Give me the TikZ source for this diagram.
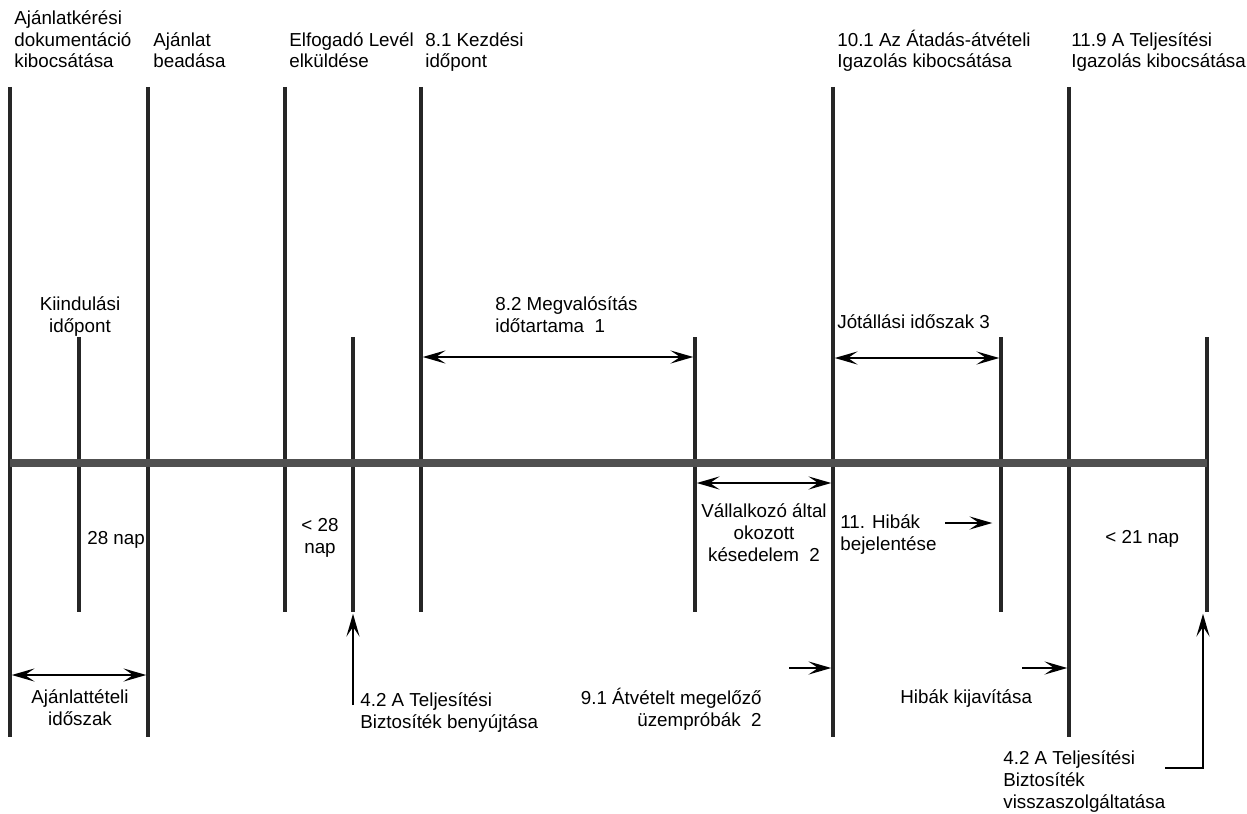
\documentclass[tikz,border=0pt]{standalone}
\usepackage{fontspec}
\setmainfont{Liberation Sans}
\usetikzlibrary{arrows.meta}
\definecolor{lineblack}{HTML}{262626}
\definecolor{axisgray}{HTML}{505050}
\tikzset{
  lbl/.style={inner sep=0pt, font=\fontsize{10.7}{12.5}\selectfont, align=left, anchor=base west},
  event/.style={line width=2pt, color=lineblack},
  axisline/.style={line width=4pt, color=axisgray},
  span/.style={{Stealth[length=13pt,width=7.5pt,inset=5.5pt]}-{Stealth[length=13pt,width=7.5pt,inset=5.5pt]},
    line width=0.8pt, shorten <=1pt, shorten >=1pt},
  pointer/.style={-{Stealth[length=13pt,width=7.5pt,inset=5.5pt]}, line width=0.8pt, shorten >=1pt}
}

\begin{document}
\begin{tikzpicture}[x=0.02cm,y=-0.02cm]
  \useasboundingbox (0,0) rectangle (1247,814);

  % event lines: name / x / top / bottom
  \foreach \n/\x/\yt/\yb in {doc/10/87/737, start/79/337/612, bid/148/87/737,
      accept/285/87/612, bond/353/337/612, comm/421/87/612, done/695/337/612,
      take/833/87/737, warr/1001/337/612, perf/1069/87/737, ret/1207/337/612} {
    \coordinate (\n-t) at (\x,\yt);
    \coordinate (\n-b) at (\x,\yb);
    \draw[event] (\n-t) -- (\n-b);
  }

  % time axis
  \coordinate (axL) at (10,463);
  \coordinate (axR) at (1207,463);
  \draw[axisline] (axL) -- (axR);

  % labels above (base = last line)
  \node[lbl] (docL) at (14,68) {Ajánlatkérési\\dokumentáció\\kibocsátása};
  \node[lbl] (bidL) at (153,68) {Ajánlat\\beadása};
  \node[lbl] (acceptL) at (289,68) {Elfogadó Levél\\elküldése};
  \node[lbl] (commL) at (425,68) {8.1 Kezdési\\időpont};
  \node[lbl] (takeL) at (837,68) {10.1 Az Átadás-átvételi\\Igazolás kibocsátása};
  \node[lbl] (perfL) at (1071,68) {11.9 A Teljesítési\\Igazolás kibocsátása};

  \node[lbl, align=center, anchor=base] (startL) at (80,332) {Kiindulási\\időpont};
  \node[lbl] (buildL) at (495,332) {8.2 Megvalósítás\\időtartama~~1};
  \node[lbl] (warrL) at (837,328) {Jótállási időszak 3};

  % spans
  \draw[span] (comm-t |- 0,357) -- (done-t |- 0,357);
  \draw[span] (take-t |- 0,358) -- (warr-t |- 0,358);
  \draw[span] (done-t |- 0,483) -- (take-t |- 0,483);
  \draw[span] (doc-t |- 0,675) -- (bid-t |- 0,675);

  % labels below the axis
  \node[lbl] (days28) at (87,544) {28 nap};
  \node[lbl, align=center, anchor=base] (lt28) at (320,553) {< 28\\nap};
  \node[lbl, align=center, anchor=base] (delayL) at (764,561) {Vállalkozó által\\okozott\\késedelem~~2};
  \node[lbl] (defectL) at (840,550) {11. Hibák\\bejelentése};
  \node[lbl] (lt21) at (1105,543) {< 21 nap};

  \node[lbl, align=center, anchor=base] (tenderL) at (80,725) {Ajánlattételi\\időszak};
  \node[lbl] (bondL) at (360,728) {4.2 A Teljesítési\\Biztosíték benyújtása};
  \node[lbl, align=right, anchor=base east] (testL) at (762,726) {9.1 Átvételt megelőző\\üzempróbák~~2};
  \node[lbl] (fixL) at (900,703) {Hibák kijavítása};
  \node[lbl] (retL) at (1003,808) {4.2 A Teljesítési\\Biztosíték\\visszaszolgáltatása};

  % pointers
  \coordinate (defectA) at (945,523);
  \coordinate (defectB) at (994,523);
  \draw[pointer] (defectA) -- (defectB);
  \coordinate (testA) at (789,668);
  \draw[pointer] (testA) -- (take-t |- 0,668);
  \coordinate (fixA) at (1022,668);
  \draw[pointer] (fixA) -- (perf-t |- 0,668);
  \coordinate (bondA) at (353,705);
  \draw[pointer] (bondA) -- (bond-b);
  \coordinate (retA) at (1165,768);
  \coordinate (retB) at (1203,612);
  \draw[pointer] (retA) -| (retB);
\end{tikzpicture}
\end{document}
